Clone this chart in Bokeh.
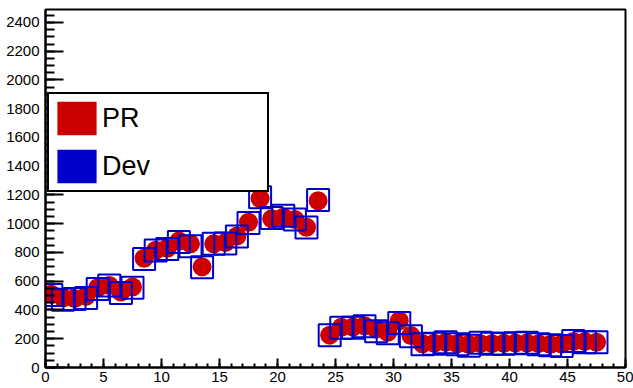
from bokeh.plotting import figure
from bokeh.models import FixedTicker, Range1d, Legend, LegendItem, ColumnDataSource
from bokeh.embed import file_html
from bokeh.resources import INLINE

# ---- data ----
bin_centers = [0.5, 1.5, 2.5, 3.5, 4.5, 5.5, 6.5, 7.5, 8.5, 9.5,
               10.5, 11.5, 12.5, 13.5, 14.5, 15.5, 16.5, 17.5, 18.5, 19.5,
               20.5, 21.5, 22.5, 23.5, 24.5, 25.5, 26.5, 27.5, 28.5, 29.5,
               30.5, 31.5, 32.5, 33.5, 34.5, 35.5, 36.5, 37.5, 38.5, 39.5,
               40.5, 41.5, 42.5, 43.5, 44.5, 45.5, 46.5, 47.5]
pr_values = [510, 485, 480, 495, 555, 570, 525, 560, 760, 815,
             830, 880, 860, 700, 860, 870, 915, 1010, 1175, 1035,
             1045, 1030, 975, 1160, 225, 280, 282, 290, 268, 245,
             325, 222, 165, 168, 176, 165, 160, 166, 166, 168,
             170, 170, 166, 160, 164, 181, 180, 176]
dev_values = [505, 472, 477, 484, 546, 570, 519, 554, 755, 813,
              825, 873, 843, 697, 860, 862, 912, 1005, 1184, 1040,
              1055, 1030, 974, 1165, 224, 277, 277, 287, 252, 238,
              310, 217, 162, 165, 176, 162, 152, 172, 165, 165,
              168, 172, 162, 155, 150, 185, 176, 176]
x_major = [0, 5, 10, 15, 20, 25, 30, 35, 40, 45, 50]
y_major = [0, 200, 400, 600, 800, 1000, 1200, 1400, 1600, 1800, 2000, 2200, 2400]
series_names = ["PR", "Dev"]

RED = "#cc0000"
BLUE = "#0000cc"
FONT = "Liberation Sans"
NAN = float("nan")

p = figure(width=633, height=388, output_backend="svg", toolbar_location=None,
           x_range=Range1d(0, 50), y_range=Range1d(0, 2490),
           min_border_left=45, min_border_right=8, min_border_top=9, min_border_bottom=21)
p.grid.visible = False
p.outline_line_color = "black"
p.outline_line_width = 2
p.outline_line_alpha = 1
p.background_fill_color = "white"
p.border_fill_color = "white"

src = ColumnDataSource(dict(x=bin_centers, pr=pr_values, dev=dev_values))
p.scatter("x", "pr", source=src, marker="circle", size=19, fill_color=RED, line_color=None)
p.scatter("x", "dev", source=src, marker="square", size=22, fill_color=None,
          line_color=BLUE, line_width=2)

# legend swatches (renderers with no visible geometry)
r_pr = p.quad(left=[NAN], right=[NAN], top=[NAN], bottom=[NAN], fill_color=RED, line_color=None)
r_dev = p.quad(left=[NAN], right=[NAN], top=[NAN], bottom=[NAN], fill_color=BLUE, line_color=None)
legend = Legend(items=[LegendItem(label=series_names[0], renderers=[r_pr]),
                       LegendItem(label=series_names[1], renderers=[r_dev])],
                location=(2, 175), margin=0, padding=3, spacing=6,
                glyph_width=49, glyph_height=42, label_standoff=1,
                label_width=162, label_height=42,
                label_text_font=FONT, label_text_font_size="27px",
                label_text_color="black",
                border_line_color="black", border_line_width=2, border_line_alpha=1,
                background_fill_color="white", background_fill_alpha=1)
p.add_layout(legend, "center")

# axes
for ax in (p.xaxis[0], p.yaxis[0]):
    ax.axis_line_width = 2
    ax.axis_line_color = "black"
    ax.major_tick_line_width = 2
    ax.minor_tick_line_width = 2
    ax.major_tick_line_color = "black"
    ax.minor_tick_line_color = "black"
    ax.major_tick_out = 0
    ax.minor_tick_out = 0
    ax.major_label_text_font = FONT
    ax.major_label_text_font_size = "15px"
    ax.major_label_text_color = "black"

p.xaxis[0].ticker = FixedTicker(ticks=x_major, minor_ticks=list(range(0, 51)))
p.xaxis[0].major_tick_in = 9
p.xaxis[0].minor_tick_in = 4
p.xaxis[0].major_label_standoff = 4

p.yaxis[0].ticker = FixedTicker(ticks=y_major, minor_ticks=list(range(0, 2451, 50)))
p.yaxis[0].major_tick_in = 18
p.yaxis[0].minor_tick_in = 9
p.yaxis[0].major_label_standoff = 6

open("out.html", "w").write(file_html(p, INLINE))
